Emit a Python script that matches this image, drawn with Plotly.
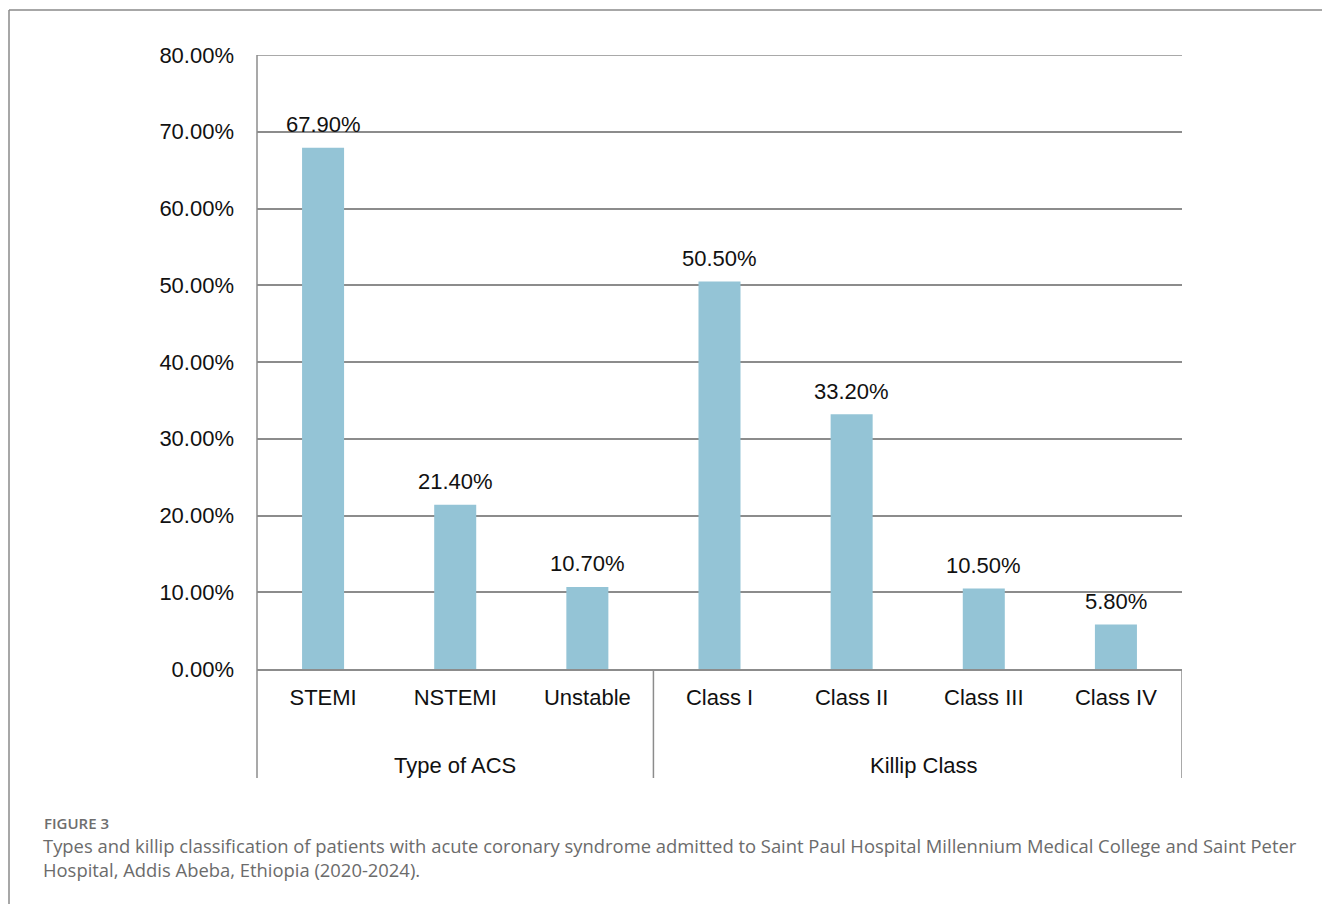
import plotly.graph_objects as go

# Data
categories = ["STEMI", "NSTEMI", "Unstable", "Class I", "Class II", "Class III", "Class IV"]
values = [0.679, 0.214, 0.107, 0.505, 0.332, 0.105, 0.058]
group_names = ["Type of ACS", "Killip Class"]
group_sizes = [3, 4]
y_ticks = [0, 0.1, 0.2, 0.3, 0.4, 0.5, 0.6, 0.7, 0.8]

caption_head = "FIGURE 3"
caption_lines = [
    "Types and killip classification of patients with acute coronary syndrome admitted to Saint Paul Hospital Millennium Medical College and Saint Peter",
    "Hospital, Addis Abeba, Ethiopia (2020-2024).",
]

W, H = 1322, 904
L, R, T, B = 257, 140, 55, 235
pw, ph = W - L - R, H - T - B

def px_x(p):
    return (p - L) / pw

def px_y(p):
    return (H - B - p) / ph

FONT = "Liberation Sans, Arial, sans-serif"
CAP_FONT = "Open Sans, sans-serif"
LINE = "#8c8c8c"
BAR = "#94c4d6"

x_idx = list(range(len(categories)))

fig = go.Figure()
fig.add_trace(go.Bar(
    x=x_idx, y=values,
    marker=dict(color=BAR, line=dict(width=0)),
    hoverinfo="skip",
))

# value labels above bars
for i, v in zip(x_idx, values):
    fig.add_annotation(
        x=i, y=v, xref="x", yref="y",
        text=f"{v*100:.2f}%", showarrow=False,
        yanchor="middle", yshift=23,
        font=dict(family=FONT, size=22, color="#111"),
    )

shapes = []
# top gridline at the axis maximum
shapes.append(dict(type="line", xref="paper", yref="y",
                   x0=0, x1=1, y0=y_ticks[-1], y1=y_ticks[-1],
                   line=dict(color=LINE, width=1.5), layer="below"))
# y axis line extending down through the category area
shapes.append(dict(type="line", xref="paper", yref="paper",
                   x0=0, x1=0, y0=1, y1=px_y(778),
                   line=dict(color=LINE, width=1.5)))
# group dividers and group labels
start = 0
for name, n in zip(group_names, group_sizes):
    end = start + n
    shapes.append(dict(type="line", xref="x", yref="paper",
                       x0=end - 0.5, x1=end - 0.5, y0=0, y1=px_y(778),
                       line=dict(color=LINE, width=1.5)))
    fig.add_annotation(
        x=(start + end - 1) / 2, y=px_y(765), xref="x", yref="paper",
        text=name, showarrow=False, yanchor="middle",
        xshift=6 if n == 4 else 0,
        font=dict(family=FONT, size=22, color="#111"),
    )
    start = end

# outer frame (top and left)
shapes.append(dict(type="line", xref="paper", yref="paper",
                   x0=px_x(9), x1=px_x(W + 5), y0=px_y(10), y1=px_y(10),
                   line=dict(color="#8a8a8a", width=1.5)))
shapes.append(dict(type="line", xref="paper", yref="paper",
                   x0=px_x(9), x1=px_x(9), y0=px_y(10), y1=px_y(H + 5),
                   line=dict(color="#8a8a8a", width=1.5)))

# caption
fig.add_annotation(
    x=px_x(42), y=px_y(823), xref="paper", yref="paper",
    text=caption_head, showarrow=False, xanchor="left", yanchor="middle",
    font=dict(family=CAP_FONT, size=15, color="#6e6e6e", weight=600),
)
for k, line in enumerate(caption_lines):
    fig.add_annotation(
        x=px_x(41), y=px_y(846 + 23 * k), xref="paper", yref="paper",
        text=line, showarrow=False, xanchor="left", yanchor="middle",
        font=dict(family=CAP_FONT, size=18.4, color="#6b6b6b"),
    )

fig.update_layout(
    width=W, height=H,
    margin=dict(l=L, r=R, t=T, b=B, autoexpand=False),
    paper_bgcolor="white", plot_bgcolor="white",
    showlegend=False,
    bargap=0.682,
    shapes=shapes,
    font=dict(family=FONT, size=22, color="#111"),
)
fig.update_xaxes(
    range=[-0.5, len(categories) - 0.5],
    tickmode="array", tickvals=x_idx, ticktext=categories,
    showgrid=False, zeroline=False,
    showline=True, linecolor=LINE, linewidth=1.5,
    ticks="", ticklabelstandoff=8,
    tickfont=dict(family=FONT, size=22, color="#111"),
)
fig.update_yaxes(
    range=[0, 0.8],
    tickmode="array", tickvals=y_ticks,
    tickformat=".2%",
    showgrid=True, gridcolor=LINE, gridwidth=1.5,
    zeroline=False, showline=False,
    ticks="", ticklabelstandoff=22,
    tickfont=dict(family=FONT, size=22, color="#111"),
)

fig.write_html("out.html")
